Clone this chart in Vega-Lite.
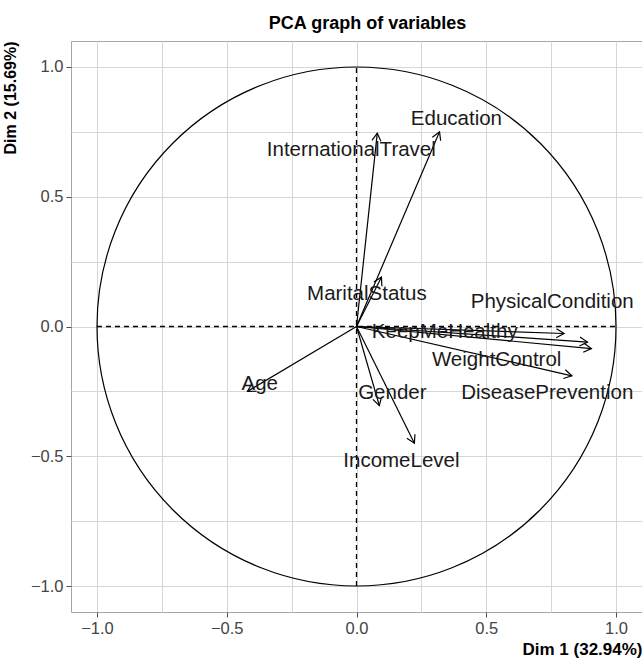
{
  "$schema": "https://vega.github.io/schema/vega-lite/v6.json",
  "autosize": {"type": "none"},
  "padding": {"left": 71, "top": 41, "right": 0, "bottom": 51},
  "width": 571,
  "height": 571,
  "background": "white",
  "title": {"text": "PCA graph of variables", "font": "Liberation Sans", "fontSize": 18, "fontWeight": "bold", "color": "black", "anchor": "middle", "offset": 8, "dx": 11},
  "config": {"view": {"stroke": "#a6a6a6", "strokeWidth": 1}, "font": "Liberation Sans"},
  "datasets": {
    "vars": [
      {"variable": "Education", "x": 0.32, "y": 0.75, "lx": 0.385, "ly": 0.8},
      {"variable": "InternationalTravel", "x": 0.08, "y": 0.745, "lx": -0.02, "ly": 0.68},
      {"variable": "MaritalStatus", "x": 0.096, "y": 0.19, "lx": 0.04, "ly": 0.124},
      {"variable": "PhysicalCondition", "x": 0.8, "y": -0.027, "lx": 0.754, "ly": 0.093},
      {"variable": "KeepMeHealthy", "x": 0.89, "y": -0.06, "lx": 0.34, "ly": -0.02},
      {"variable": "WeightControl", "x": 0.905, "y": -0.085, "lx": 0.54, "ly": -0.13},
      {"variable": "DiseasePrevention", "x": 0.83, "y": -0.19, "lx": 0.735, "ly": -0.255},
      {"variable": "Age", "x": -0.42, "y": -0.25, "lx": -0.373, "ly": -0.22},
      {"variable": "Gender", "x": 0.088, "y": -0.305, "lx": 0.138, "ly": -0.255},
      {"variable": "IncomeLevel", "x": 0.223, "y": -0.45, "lx": 0.173, "ly": -0.52}
    ],
    "axes": [
      {"x": -1, "x2": 1, "y": 0, "y2": 0},
      {"x": 0, "x2": 0, "y": -1, "y2": 1}
    ],
    "origin": [{"x": 0, "y": 0}]
  },
  "layer": [
    {
      "data": {"name": "axes"},
      "mark": {"type": "rule", "strokeDash": [5, 4], "color": "black", "strokeWidth": 1.3},
      "encoding": {
        "x": {
          "field": "x", "type": "quantitative",
          "scale": {"domain": [-1.1, 1.1], "nice": false, "zero": false},
          "axis": {
            "title": "Dim 1 (32.94%)",
            "values": [-1, -0.75, -0.5, -0.25, 0, 0.25, 0.5, 0.75, 1],
            "grid": true, "gridColor": "#d6d6d6", "gridWidth": 1,
            "domain": false,
            "tickColor": "#4d4d4d", "tickSize": 5,
            "tickOpacity": {"condition": {"test": "abs(datum.value) % 0.5 > 0.01", "value": 0}, "value": 1},
            "labelExpr": "abs(datum.value) % 0.5 > 0.01 ? '' : format(datum.value, '.1f')",
            "labelFont": "Liberation Sans", "labelFontSize": 16.5, "labelColor": "#444444", "labelPadding": 3,
            "labelFlush": false, "labelOverlap": false,
            "titleFont": "Liberation Sans", "titleFontSize": 17, "titleFontWeight": "bold", "titleColor": "black",
            "titleAnchor": "end", "titlePadding": 5
          }
        },
        "x2": {"field": "x2"},
        "y": {
          "field": "y", "type": "quantitative",
          "scale": {"domain": [-1.1, 1.1], "nice": false, "zero": false},
          "axis": {
            "title": "Dim 2 (15.69%)",
            "values": [-1, -0.75, -0.5, -0.25, 0, 0.25, 0.5, 0.75, 1],
            "grid": true, "gridColor": "#d6d6d6", "gridWidth": 1,
            "domain": false,
            "tickColor": "#4d4d4d", "tickSize": 5,
            "tickOpacity": {"condition": {"test": "abs(datum.value) % 0.5 > 0.01", "value": 0}, "value": 1},
            "labelExpr": "abs(datum.value) % 0.5 > 0.01 ? '' : format(datum.value, '.1f')",
            "labelFont": "Liberation Sans", "labelFontSize": 16.5, "labelColor": "#444444", "labelPadding": 3,
            "labelFlush": false, "labelOverlap": false,
            "titleFont": "Liberation Sans", "titleFontSize": 16, "titleFontWeight": "bold", "titleColor": "black",
            "titleAnchor": "end", "titlePadding": 12
          }
        },
        "y2": {"field": "y2"}
      }
    },
    {
      "data": {"name": "origin"},
      "mark": {"type": "point", "shape": "circle", "filled": false, "size": 269361, "stroke": "black", "strokeWidth": 1.2, "opacity": 1, "clip": false},
      "encoding": {
        "x": {"field": "x", "type": "quantitative", "scale": {"domain": [-1.1, 1.1], "nice": false, "zero": false}},
        "y": {"field": "y", "type": "quantitative", "scale": {"domain": [-1.1, 1.1], "nice": false, "zero": false}}
      }
    },
    {
      "data": {"name": "vars"},
      "mark": {"type": "rule", "color": "black", "strokeWidth": 1.2},
      "encoding": {
        "x": {"field": "x", "type": "quantitative", "scale": {"domain": [-1.1, 1.1], "nice": false, "zero": false}},
        "y": {"field": "y", "type": "quantitative", "scale": {"domain": [-1.1, 1.1], "nice": false, "zero": false}},
        "x2": {"datum": 0},
        "y2": {"datum": 0}
      }
    },
    {
      "data": {"name": "vars"},
      "transform": [{"calculate": "atan2(datum.x, datum.y) * 180 / PI", "as": "angle"}],
      "mark": {"type": "point", "shape": "M -0.5 0.866 L 0 0 L 0.5 0.866", "filled": false, "size": 324, "stroke": "black", "strokeWidth": 1.2, "opacity": 1},
      "encoding": {
        "x": {"field": "x", "type": "quantitative", "scale": {"domain": [-1.1, 1.1], "nice": false, "zero": false}},
        "y": {"field": "y", "type": "quantitative", "scale": {"domain": [-1.1, 1.1], "nice": false, "zero": false}},
        "angle": {"field": "angle", "type": "quantitative", "scale": null}
      }
    },
    {
      "data": {"name": "vars"},
      "mark": {"type": "text", "font": "Liberation Sans", "fontSize": 20.5, "color": "#1a1a1a", "align": "center", "baseline": "middle"},
      "encoding": {
        "x": {"field": "lx", "type": "quantitative", "scale": {"domain": [-1.1, 1.1], "nice": false, "zero": false}},
        "y": {"field": "ly", "type": "quantitative", "scale": {"domain": [-1.1, 1.1], "nice": false, "zero": false}},
        "text": {"field": "variable"}
      }
    }
  ]
}
